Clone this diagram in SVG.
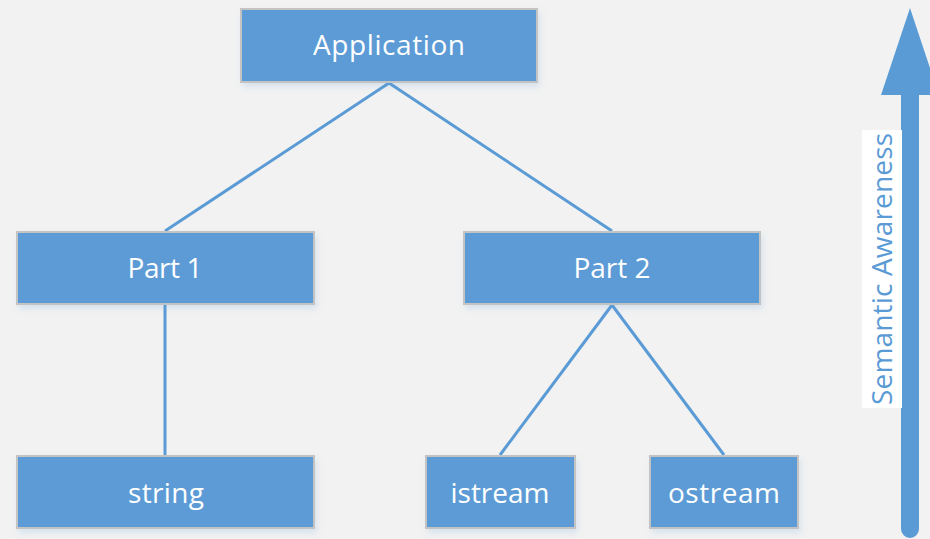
<svg xmlns="http://www.w3.org/2000/svg" width="930" height="539" viewBox="0 0 930 539">
<style>
.box{fill:#5b9bd5;stroke:#c3c3c3;stroke-width:2;filter:url(#sh)}
.lbl{font-family:"Open Sans","Noto Sans",sans-serif;font-size:28px;fill:#ffffff;text-anchor:middle}
.con{stroke:#5b9bd5;stroke-width:3;fill:none}
.sem{font-family:"Open Sans","Noto Sans",sans-serif;font-size:28px;fill:#5b9bd5;text-anchor:middle}
</style>
<defs>
<filter id="sh" x="-10%" y="-20%" width="120%" height="150%">
<feDropShadow dx="2" dy="4" stdDeviation="3" flood-color="#5b9bd5" flood-opacity="0.18"/>
</filter>
</defs>
<rect width="930" height="539" fill="#f2f2f2"/>
<g id="connectors">
<line class="con" x1="389" y1="83" x2="165" y2="231"/>
<line class="con" x1="389" y1="83" x2="612" y2="231"/>
<line class="con" x1="165" y1="305" x2="165" y2="455"/>
<line class="con" x1="612" y1="305" x2="500" y2="455"/>
<line class="con" x1="612" y1="305" x2="724" y2="455"/>
</g>
<g id="application">
<rect class="box" x="241" y="9" width="296" height="73"/>
<text class="lbl" x="389" y="55" textLength="152" lengthAdjust="spacing">Application</text>
</g>
<g id="part1">
<rect class="box" x="17" y="232" width="297" height="72"/>
<text class="lbl" x="165" y="278" textLength="75" lengthAdjust="spacing">Part 1</text>
</g>
<g id="part2">
<rect class="box" x="464" y="232" width="296" height="72"/>
<text class="lbl" x="612" y="278" textLength="77" lengthAdjust="spacing">Part 2</text>
</g>
<g id="string">
<rect class="box" x="17" y="456" width="297" height="72"/>
<text class="lbl" x="166" y="503" textLength="76" lengthAdjust="spacing">string</text>
</g>
<g id="istream">
<rect class="box" x="426" y="456" width="149" height="72"/>
<text class="lbl" x="500" y="503" textLength="99" lengthAdjust="spacing">istream</text>
</g>
<g id="ostream">
<rect class="box" x="650" y="456" width="148" height="72"/>
<text class="lbl" x="724" y="503" textLength="112" lengthAdjust="spacing">ostream</text>
</g>
<g id="semantic-awareness">
<path d="M910,8 L939,95 L919,95 L919,529 A9,9 0 0 1 901,529 L901,95 L881,95 Z" fill="#5b9bd5"/>
<rect x="862" y="130" width="40" height="278" fill="#ffffff"/>
<text class="sem" transform="translate(892,269) rotate(-90)" x="0" y="0" textLength="272" lengthAdjust="spacing">Semantic Awareness</text>
</g>
</svg>
